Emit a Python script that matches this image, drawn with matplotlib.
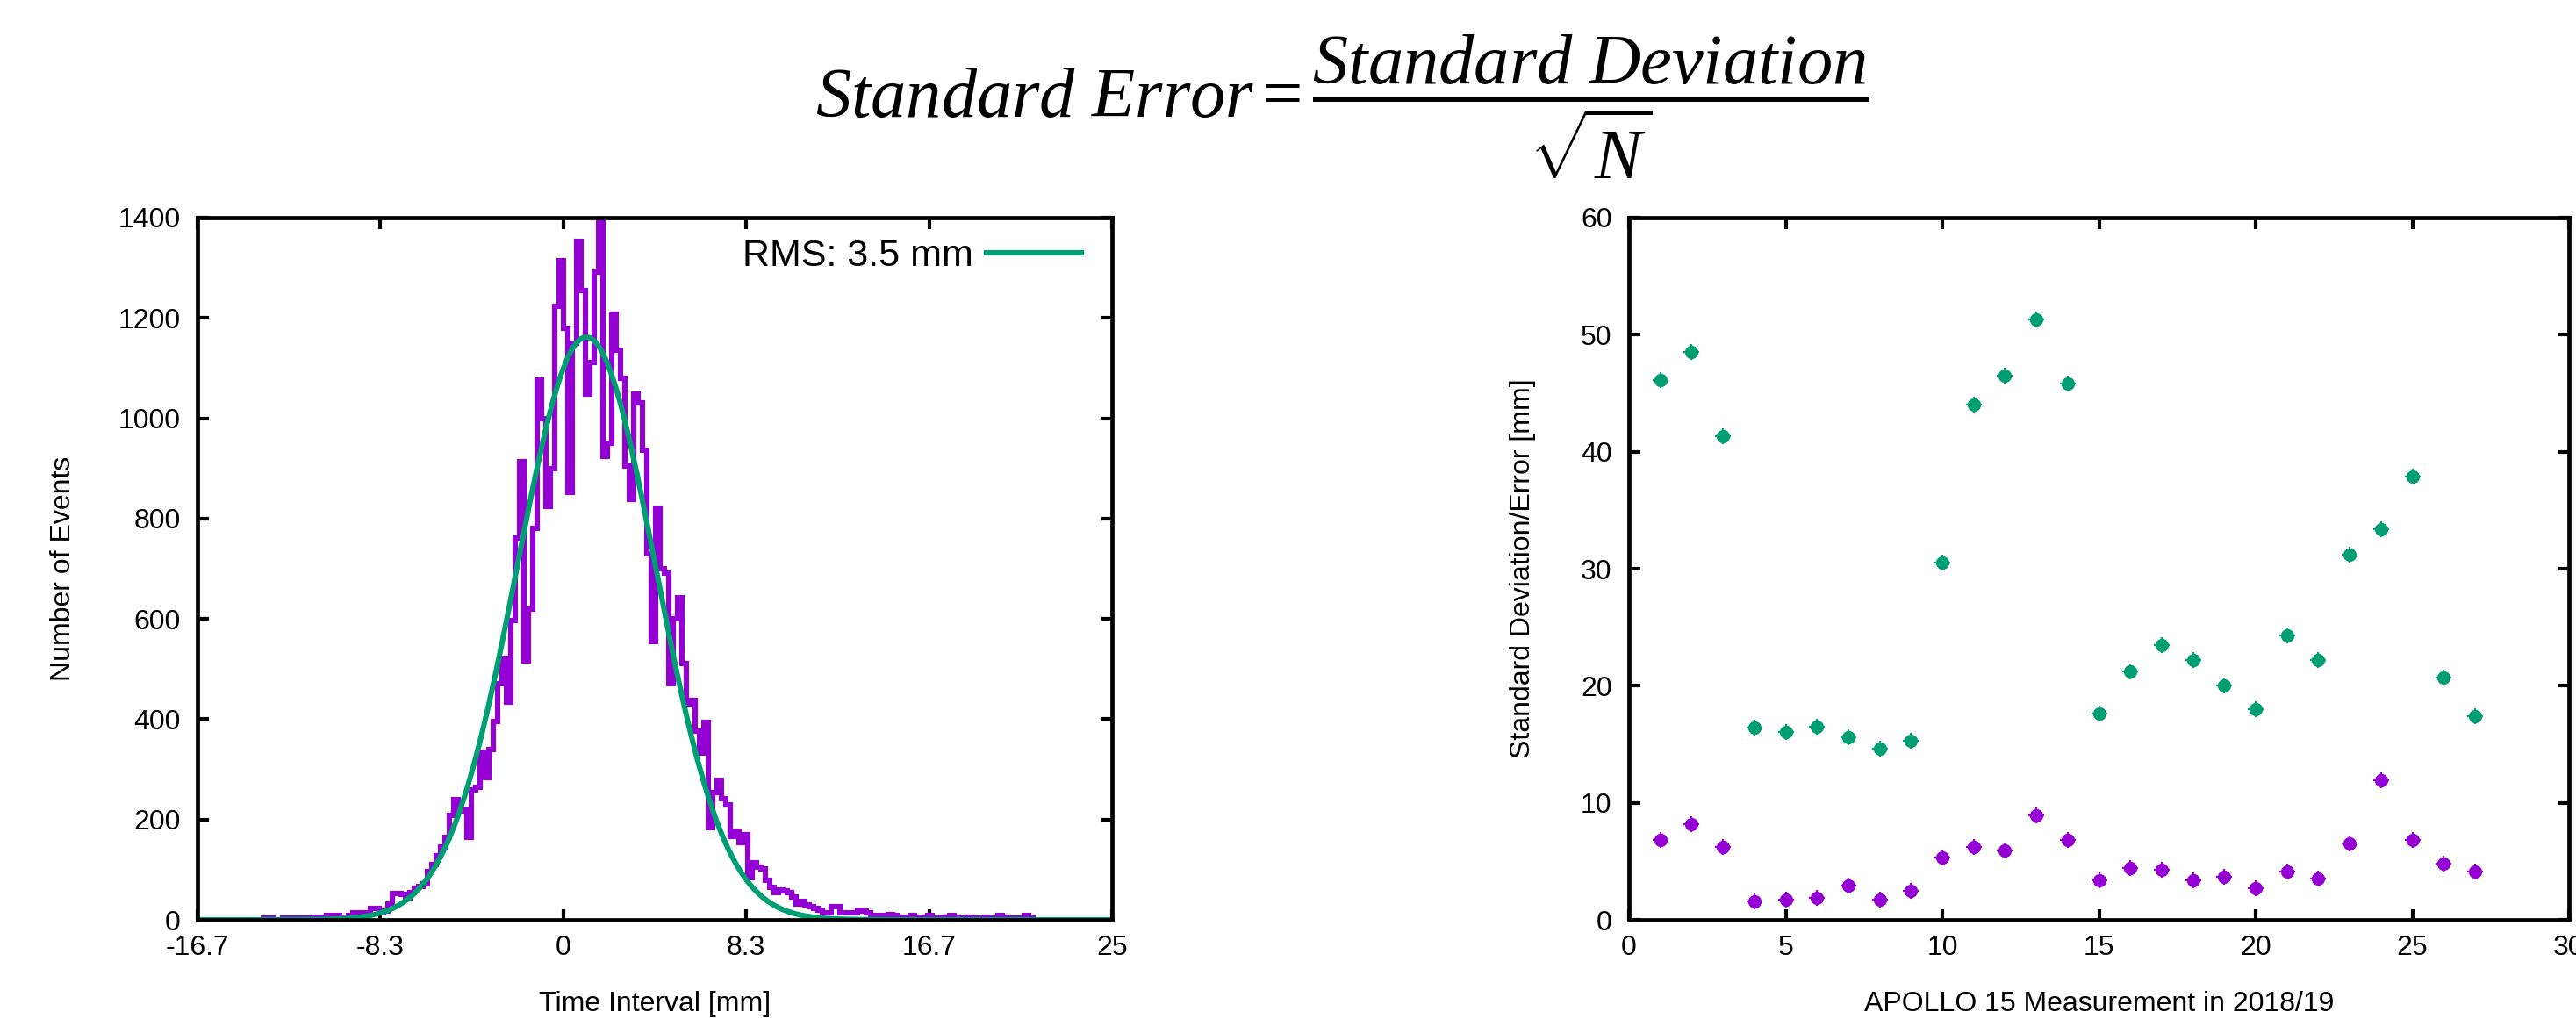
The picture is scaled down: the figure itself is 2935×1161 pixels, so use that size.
import numpy as np
import matplotlib
matplotlib.use("Agg")
import matplotlib.pyplot as plt

# ---------------- data ----------------
# left panel: histogram of time intervals (bin width 0.2 mm, first edge -13.8 mm)
hist_start = -13.8
hist_width = 0.2
hist_counts = [
    3, 3, 3, 0, 0, 3, 3, 3, 3, 3,
    3, 3, 5, 3, 5, 8, 8, 8, 5, 3,
    8, 14, 14, 8, 14, 23, 23, 14, 18, 31,
    52, 52, 50, 43, 55, 63, 67, 72, 96, 110,
    128, 146, 165, 209, 240, 215, 218, 165, 259, 265,
    334, 284, 340, 396, 470, 521, 434, 596, 761, 914,
    517, 620, 780, 1077, 1000, 824, 900, 1224, 1314, 1180,
    852, 1150, 1352, 1255, 1049, 1111, 1292, 1400, 924, 950,
    1208, 1136, 1080, 905, 839, 1049, 1030, 936, 730, 555,
    821, 700, 692, 471, 600, 642, 511, 430, 437, 376,
    332, 393, 183, 253, 279, 241, 230, 166, 177, 154,
    170, 84, 113, 105, 101, 78, 65, 55, 60, 57,
    55, 45, 31, 37, 29, 26, 22, 20, 14, 14,
    26, 26, 14, 14, 14, 14, 20, 17, 14, 8,
    8, 8, 5, 11, 8, 5, 5, 3, 8, 5,
    3, 5, 8, 3, 3, 5, 3, 8, 5, 3,
    3, 5, 3, 3, 3, 5, 3, 3, 8, 5,
    3, 3, 3, 3, 8, 3, 0, 0, 0, 0,
    0, 0, 0, 0, 0, 0, 0, 0, 0, 0,
    0, 0, 0, 0,
]
# Gaussian fit parameters
fit_amplitude = 1162.0
fit_mean = 1.05
fit_sigma = 3.15
fit_label = "RMS: 3.5 mm"

left_xticks = [-50/3, -25/3, 0, 25/3, 50/3, 25]
left_xticklabels = ["-16.7", "-8.3", "0", "8.3", "16.7", "25"]
left_yticks = [0, 200, 400, 600, 800, 1000, 1200, 1400]

# right panel: per-measurement standard deviation and standard error
measurement = [1, 2, 3, 4, 5, 6, 7, 8, 9, 10, 11, 12, 13, 14,
               15, 16, 17, 18, 19, 20, 21, 22, 23, 24, 25, 26, 27]
std_dev = [46.1, 48.5, 41.3, 16.4, 16.05, 16.5, 15.6, 14.6, 15.3, 30.5,
           44.0, 46.5, 51.3, 45.8, 17.6, 21.2, 23.5, 22.2, 20.0, 18.0,
           24.3, 22.2, 31.2, 33.4, 37.9, 20.7, 17.4]
std_err = [6.8, 8.2, 6.2, 1.6, 1.7, 1.9, 2.9, 1.7, 2.5, 5.3,
           6.2, 5.9, 8.9, 6.8, 3.4, 4.4, 4.3, 3.4, 3.7, 2.7,
           4.1, 3.5, 6.5, 11.9, 6.8, 4.8, 4.1]

PURPLE = "#9400d3"
GREEN = "#009e73"

# ---------------- style ----------------
plt.rcParams["font.family"] = ["Liberation Sans", "DejaVu Sans"]
plt.rcParams["mathtext.fontset"] = "custom"
plt.rcParams["mathtext.it"] = "Liberation Serif:italic"
plt.rcParams["mathtext.rm"] = "Liberation Serif"
plt.rcParams["mathtext.bf"] = "Liberation Serif:bold"

W, H = 2935, 1161
fig = plt.figure(figsize=(W / 100, H / 100), dpi=100)

ax1 = fig.add_axes([225 / W, (H - 1048) / H, 1042 / W, 800 / H])
ax2 = fig.add_axes([1856 / W, (H - 1048) / H, 1071 / W, 800 / H])

LABEL_FS = 23

def style_axes(ax):
    for sp in ax.spines.values():
        sp.set_linewidth(3.4)
        sp.set_zorder(5)
    ax.tick_params(direction="in", length=9, width=3.0, top=True, right=True,
                   labelsize=LABEL_FS, color="black")
    ax.tick_params(axis="y", pad=14)
    ax.tick_params(axis="x", pad=12)

# ---------------- left panel ----------------
edges = hist_start + hist_width * np.arange(len(hist_counts) + 1)
ax1.stairs(hist_counts, edges, color=PURPLE, linewidth=4.4, baseline=None, zorder=2)
xs = np.linspace(-50/3, 25, 1500)
ys = fit_amplitude * np.exp(-(xs - fit_mean) ** 2 / (2 * fit_sigma ** 2))
ax1.plot(xs, ys, color=GREEN, linewidth=4.4, label=fit_label, zorder=3)

ax1.set_xlim(-50/3, 25)
ax1.set_ylim(0, 1400)
ax1.set_xticks(left_xticks)
ax1.set_xticklabels(left_xticklabels)
ax1.set_yticks(left_yticks)
style_axes(ax1)
ax1.set_xlabel("Time Interval [mm]", fontsize=LABEL_FS)
ax1.set_ylabel("Number of Events", fontsize=LABEL_FS)
ax1.xaxis.set_label_coords(0.5, -0.101)
ax1.yaxis.set_label_coords(-0.132, 0.5)
leg = ax1.legend(loc="upper right", bbox_to_anchor=(0.966, 0.970), frameon=False,
                 fontsize=31, markerfirst=False, handlelength=2.5,
                 handletextpad=0.35, borderpad=0, borderaxespad=0)

# ---------------- right panel ----------------
ax2.plot(measurement, std_dev, linestyle="none", marker="o", ms=10, color=GREEN, zorder=3)
ax2.plot(measurement, std_dev, linestyle="none", marker="+", ms=13, mew=1.6, color=GREEN, zorder=3)
ax2.plot(measurement, std_err, linestyle="none", marker="o", ms=10, color=PURPLE, zorder=3)
ax2.plot(measurement, std_err, linestyle="none", marker="+", ms=13, mew=1.6, color=PURPLE, zorder=3)
ax2.set_xlim(0, 30)
ax2.set_ylim(0, 60)
ax2.set_xticks([0, 5, 10, 15, 20, 25, 30])
ax2.set_yticks([0, 10, 20, 30, 40, 50, 60])
style_axes(ax2)
ax2.set_xlabel("APOLLO 15 Measurement in 2018/19", fontsize=LABEL_FS)
ax2.set_ylabel("Standard Deviation/Error [mm]", fontsize=LABEL_FS)
ax2.xaxis.set_label_coords(0.5, -0.101)
ax2.yaxis.set_label_coords(-0.099, 0.5)

# ---------------- formula title ----------------
fig.text(0.521, 0.895,
         r"$Standard\ Error = \dfrac{Standard\ Deviation}{\sqrt{N}}$",
         ha="center", va="center", fontsize=58)

fig.savefig("out.png", dpi=100)
